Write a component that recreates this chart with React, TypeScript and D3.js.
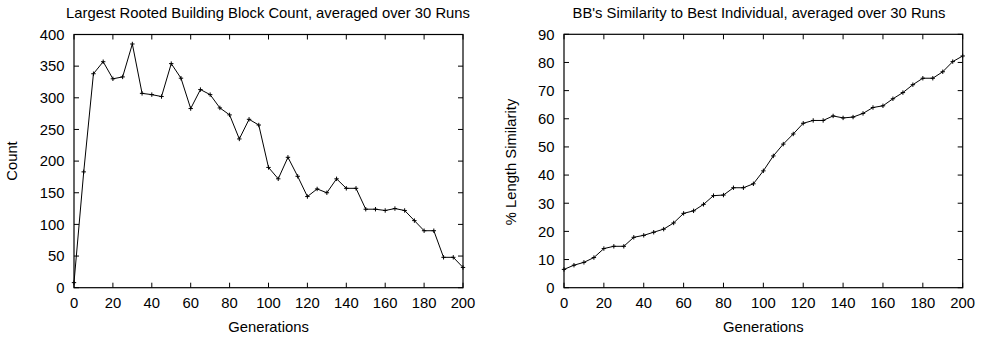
import React from "react";
import * as d3 from "d3";

const generations: number[] = [
  0, 5, 10, 15, 20, 25, 30, 35, 40, 45, 50, 55, 60, 65, 70, 75, 80, 85, 90, 95, 100,
  105, 110, 115, 120, 125, 130, 135, 140, 145, 150, 155, 160, 165, 170, 175, 180, 185, 190, 195, 200,
];

const blockCount: number[] = [
  8, 183, 338, 357, 330, 333, 385, 307, 305, 302, 354, 331, 283, 313, 305, 284, 273, 235, 266, 257, 190,
  172, 206, 176, 144, 156, 150, 172, 157, 157, 124, 124, 122, 125, 122, 106, 90, 90, 48, 48, 32,
];

const similarity: number[] = [
  6.5, 8, 9, 10.7, 13.9, 14.7, 14.7, 17.9, 18.6, 19.7, 20.8, 23, 26.4, 27.3, 29.6, 32.7, 32.9, 35.5, 35.5, 36.9, 41.5,
  46.8, 51, 54.6, 58.4, 59.4, 59.4, 61, 60.3, 60.6, 61.9, 64, 64.6, 67.1, 69.3, 72.1, 74.4, 74.4, 76.7, 80.3, 82.3,
];

const xTicks: number[] = [0, 20, 40, 60, 80, 100, 120, 140, 160, 180, 200];
const yTicksLeft: number[] = [0, 50, 100, 150, 200, 250, 300, 350, 400];
const yTicksRight: number[] = [0, 10, 20, 30, 40, 50, 60, 70, 80, 90];

const FONT = "'Liberation Sans', Arial, Helvetica, sans-serif";
const FS = 14.8;

type PanelProps = {
  left: number;
  right: number;
  top: number;
  bottom: number;
  yMax: number;
  yTicks: number[];
  values: number[];
  title: string;
  titleX: number;
  yLabel: string;
  yLabelX: number;
  yLabelY: number;
};

function Panel(p: PanelProps) {
  const x = d3.scaleLinear().domain([0, 200]).range([p.left, p.right]);
  const y = d3.scaleLinear().domain([0, p.yMax]).range([p.bottom, p.top]);
  const line = d3
    .line<number>()
    .x((_, i) => x(generations[i]))
    .y((d) => y(d));
  const tl = 5;
  const ms = 2.2;
  return (
    <g>
      <text x={p.titleX} y={17.5} textAnchor="middle" fontSize={FS} fontFamily={FONT} fill="#000">
        {p.title}
      </text>
      {xTicks.map((t) => (
        <g key={"x" + t}>
          <line x1={x(t)} x2={x(t)} y1={p.bottom} y2={p.bottom - tl} stroke="#000" strokeWidth={1} />
          <line x1={x(t)} x2={x(t)} y1={p.top} y2={p.top + tl} stroke="#000" strokeWidth={1} />
          <text x={x(t)} y={p.bottom + 20.5} textAnchor="middle" fontSize={FS} fontFamily={FONT} fill="#000">
            {t}
          </text>
        </g>
      ))}
      {p.yTicks.map((t) => (
        <g key={"y" + t}>
          <line x1={p.left} x2={p.left + tl} y1={y(t)} y2={y(t)} stroke="#000" strokeWidth={1} />
          <line x1={p.right} x2={p.right - tl} y1={y(t)} y2={y(t)} stroke="#000" strokeWidth={1} />
          <text x={p.left - 9.5} y={y(t) + 5.3} textAnchor="end" fontSize={FS} fontFamily={FONT} fill="#000">
            {t}
          </text>
        </g>
      ))}
      <rect
        x={p.left}
        y={p.top}
        width={p.right - p.left}
        height={p.bottom - p.top}
        fill="none"
        stroke="#000"
        strokeWidth={1.2}
      />
      <path d={line(p.values) || ""} fill="none" stroke="#000" strokeWidth={1} />
      {p.values.map((v, i) => (
        <g key={"m" + i}>
          <line x1={x(generations[i]) - ms} x2={x(generations[i]) + ms} y1={y(v)} y2={y(v)} stroke="#000" strokeWidth={1} />
          <line x1={x(generations[i])} x2={x(generations[i])} y1={y(v) - ms} y2={y(v) + ms} stroke="#000" strokeWidth={1} />
        </g>
      ))}
      <text
        x={(p.left + p.right) / 2}
        y={p.bottom + 44}
        textAnchor="middle"
        fontSize={FS}
        fontFamily={FONT}
        fill="#000"
      >
        Generations
      </text>
      <text
        transform={`translate(${p.yLabelX},${p.yLabelY}) rotate(-90)`}
        textAnchor="middle"
        fontSize={FS}
        fontFamily={FONT}
        fill="#000"
      >
        {p.yLabel}
      </text>
    </g>
  );
}

export default function App() {
  return (
    <div style={{ position: "absolute", left: 0, top: 0 }}>
      <svg width={989} height={337} style={{ display: "block", background: "#fff" }}>
        <rect width={989} height={337} fill="#fff" />
        <Panel
          left={74}
          right={463}
          top={34.5}
          bottom={287.7}
          yMax={400}
          yTicks={yTicksLeft}
          values={blockCount}
          title="Largest Rooted Building Block Count, averaged over 30 Runs"
          titleX={268}
          yLabel="Count"
          yLabelX={17}
          yLabelY={161}
        />
        <Panel
          left={564}
          right={962.7}
          top={34.3}
          bottom={287.7}
          yMax={90}
          yTicks={yTicksRight}
          values={similarity}
          title="BB's Similarity to Best Individual, averaged over 30 Runs"
          titleX={759}
          yLabel="% Length Similarity"
          yLabelX={516}
          yLabelY={162}
        />
      </svg>
    </div>
  );
}
